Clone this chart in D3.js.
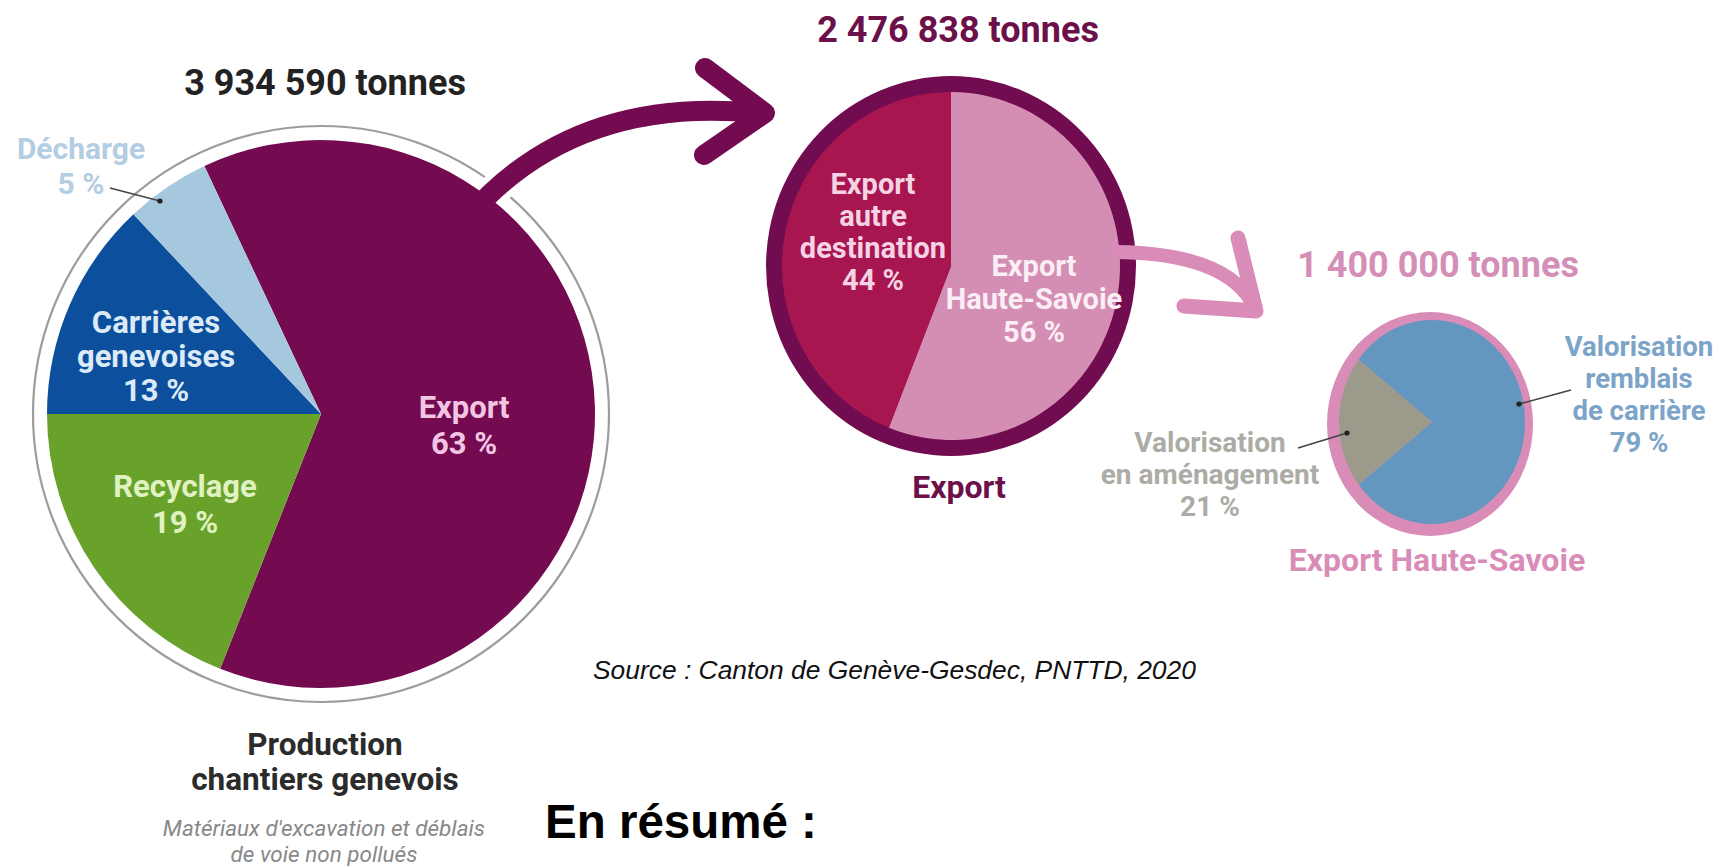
<!DOCTYPE html>
<html>
<head>
<meta charset="utf-8">
<script src="https://cdn.jsdelivr.net/npm/d3@7"></script>
<style>
  html, body { margin: 0; padding: 0; background: #ffffff; }
  svg { display: block; }
</style>
</head>
<body>
<svg id="chart" width="1721" height="866"></svg>
<script>
// ---------- DATA ----------
const productionCategories = ["Export", "Recyclage", "Carrières genevoises", "Décharge"];
const productionValues = [63, 19, 13, 5];
const productionTotal = "3 934 590 tonnes";

const exportCategories = ["Export Haute-Savoie", "Export autre destination"];
const exportValues = [56, 44];
const exportTotal = "2 476 838 tonnes";

const hauteSavoieCategories = ["Valorisation remblais de carrière", "Valorisation en aménagement"];
const hauteSavoieValues = [79, 21];
const hauteSavoieTotal = "1 400 000 tonnes";

const sourceText = "Source : Canton de Genève-Gesdec, PNTTD, 2020";
const summaryText = "En résumé :";

// ---------- STYLE ----------
const F = "Roboto, 'DejaVu Sans', sans-serif";
const deg = Math.PI / 180;
const svg = d3.select("#chart");

function lines(g, arr, x, y0, dy, size, color, weight, style) {
  arr.forEach((t, i) => {
    g.append("text").attr("x", x).attr("y", y0 + i * dy)
      .attr("text-anchor", "middle")
      .attr("font-family", F).attr("font-size", size)
      .attr("font-weight", weight || 700)
      .attr("font-style", style || "normal")
      .attr("fill", color).text(t);
  });
}

// ---------- LEFT PIE (production) ----------
const L = { cx: 321, cy: 414, r: 274, ring: 288 };
const leftColors = d3.scaleOrdinal().domain(productionCategories)
  .range(["#740a50", "#69a22b", "#0c4f9d", "#a6c8df"]);

svg.append("circle").attr("cx", L.cx).attr("cy", L.cy).attr("r", L.ring)
  .attr("fill", "#fff").attr("stroke", "#9d9d9d").attr("stroke-width", 2.2);

const arrow1Shaft = d3.path();
arrow1Shaft.moveTo(470, 215);
arrow1Shaft.quadraticCurveTo(575, 95, 758, 113);
const arrow1Head = "M705,68 L765,113 L704,155";

svg.append("path").attr("d", arrow1Shaft.toString()).attr("fill", "none")
  .attr("stroke", "#fff").attr("stroke-width", 32);

const leftPie = d3.pie().sort(null)
  .startAngle(-25.2 * deg).endAngle(-25.2 * deg + 2 * Math.PI);
const leftArc = d3.arc().innerRadius(0).outerRadius(L.r);
const gL = svg.append("g").attr("transform", `translate(${L.cx},${L.cy})`);
gL.selectAll("path").data(leftPie(productionValues)).join("path")
  .attr("d", leftArc).attr("fill", (d, i) => leftColors(productionCategories[i]));

svg.append("path").attr("d", arrow1Shaft.toString()).attr("fill", "none")
  .attr("stroke", "#740a50").attr("stroke-width", 20).attr("stroke-linecap", "round");
svg.append("path").attr("d", arrow1Head).attr("fill", "none")
  .attr("stroke", "#740a50").attr("stroke-width", 20)
  .attr("stroke-linecap", "round").attr("stroke-linejoin", "round");

lines(svg, [productionTotal], 325, 95, 0, 36, "#222", 700);
lines(svg, ["Export", productionValues[0] + " %"], 464, 418, 36, 31, "#f2c6e3");
lines(svg, ["Recyclage", productionValues[1] + " %"], 185, 497, 36, 31, "#e1f2c2");
lines(svg, ["Carrières", "genevoises", productionValues[2] + " %"], 156, 333, 34, 31, "#dceaf7");
lines(svg, ["Décharge", productionValues[3] + " %"], 81, 159, 35, 30, "#b3cde2");
svg.append("line").attr("x1", 110).attr("y1", 188).attr("x2", 160).attr("y2", 201)
  .attr("stroke", "#444").attr("stroke-width", 1.5);
svg.append("circle").attr("cx", 160).attr("cy", 201).attr("r", 2.6).attr("fill", "#222");

lines(svg, ["Production", "chantiers genevois"], 325, 755, 35, 31.5, "#2b2b2b", 700);
lines(svg, ["Matériaux d'excavation et déblais", "de voie non pollués"], 324, 836, 26, 22.5, "#888888", 400, "italic");

// ---------- MIDDLE PIE (export) ----------
const M = { cx: 951, cy: 266, rx: 185, ry: 190, ring: 16 };
const midColors = d3.scaleOrdinal().domain(exportCategories).range(["#d48eb4", "#a8164f"]);
svg.append("ellipse").attr("cx", M.cx).attr("cy", M.cy).attr("rx", M.rx).attr("ry", M.ry)
  .attr("fill", "#720c50");
const midPie = d3.pie().sort(null).startAngle(0).endAngle(2 * Math.PI);
const midArc = d3.arc().innerRadius(0).outerRadius(M.rx - M.ring);
const gM = svg.append("g")
  .attr("transform", `translate(${M.cx},${M.cy}) scale(1,${(M.ry - M.ring) / (M.rx - M.ring)})`);
gM.selectAll("path").data(midPie(exportValues)).join("path")
  .attr("d", midArc).attr("fill", (d, i) => midColors(exportCategories[i]));

lines(svg, [exportTotal], 958, 42, 0, 36, "#6b1049", 700);
lines(svg, ["Export", "autre", "destination", exportValues[1] + " %"], 873, 194, 32, 29, "#f5d3e4");
lines(svg, ["Export", "Haute-Savoie", exportValues[0] + " %"], 1034, 276, 33, 29, "#fbeef4");
lines(svg, ["Export"], 959, 498, 0, 32, "#6b1049", 700);

// arrow 2 (pink)
const arrow2Shaft = d3.path();
arrow2Shaft.moveTo(1118, 252);
arrow2Shaft.quadraticCurveTo(1228, 254, 1254, 306);
svg.append("path").attr("d", arrow2Shaft.toString()).attr("fill", "none")
  .attr("stroke", "#d98cb8").attr("stroke-width", 14).attr("stroke-linecap", "round");
svg.append("path").attr("d", "M1238,238 L1256,311 L1184,306").attr("fill", "none")
  .attr("stroke", "#d98cb8").attr("stroke-width", 15)
  .attr("stroke-linecap", "round").attr("stroke-linejoin", "round");

// ---------- RIGHT PIE (Haute-Savoie) ----------
const R = { cx: 1430, cy: 424, rx: 103, ry: 112, ring: 10 };
const rightColors = d3.scaleOrdinal().domain(hauteSavoieCategories).range(["#6497bf", "#9c9b8b"]);
svg.append("ellipse").attr("cx", R.cx).attr("cy", R.cy).attr("rx", R.rx).attr("ry", R.ry)
  .attr("fill", "#d98cb8");
const rightPie = d3.pie().sort(null)
  .startAngle(-52.2 * deg).endAngle(-52.2 * deg + 2 * Math.PI);
const rightArc = d3.arc().innerRadius(0).outerRadius(R.rx - R.ring);
const gR = svg.append("g")
  .attr("transform", `translate(${R.cx + 2},${R.cy - 2}) scale(1,${(R.ry - R.ring) / (R.rx - R.ring)})`);
gR.selectAll("path").data(rightPie(hauteSavoieValues)).join("path")
  .attr("d", rightArc).attr("fill", (d, i) => rightColors(hauteSavoieCategories[i]));

lines(svg, [hauteSavoieTotal], 1438, 277, 0, 36, "#d58fb7", 700);
lines(svg, ["Valorisation", "remblais", "de carrière", hauteSavoieValues[0] + " %"], 1639, 356, 32, 27.5, "#7ca4c8");
lines(svg, ["Valorisation", "en aménagement", hauteSavoieValues[1] + " %"], 1210, 452, 32, 28, "#acaba5");
lines(svg, ["Export Haute-Savoie"], 1437, 571, 0, 32, "#d98cb8", 700);

svg.append("line").attr("x1", 1571).attr("y1", 390).attr("x2", 1519).attr("y2", 404)
  .attr("stroke", "#444").attr("stroke-width", 1.5);
svg.append("circle").attr("cx", 1519).attr("cy", 404).attr("r", 2.6).attr("fill", "#222");
svg.append("line").attr("x1", 1298).attr("y1", 448).attr("x2", 1347).attr("y2", 433)
  .attr("stroke", "#444").attr("stroke-width", 1.5);
svg.append("circle").attr("cx", 1347).attr("cy", 433).attr("r", 2.6).attr("fill", "#222");

// ---------- SOURCE + SUMMARY ----------
svg.append("text").attr("x", 593).attr("y", 679)
  .attr("font-family", "'Liberation Sans', Arial, sans-serif").attr("font-style", "italic")
  .attr("font-size", 26.4).attr("fill", "#111").text(sourceText);
svg.append("text").attr("x", 545).attr("y", 838)
  .attr("font-family", "'Liberation Sans', Arial, sans-serif").attr("font-weight", 700)
  .attr("font-size", 47.5).attr("fill", "#000").text(summaryText);
</script>
</body>
</html>
